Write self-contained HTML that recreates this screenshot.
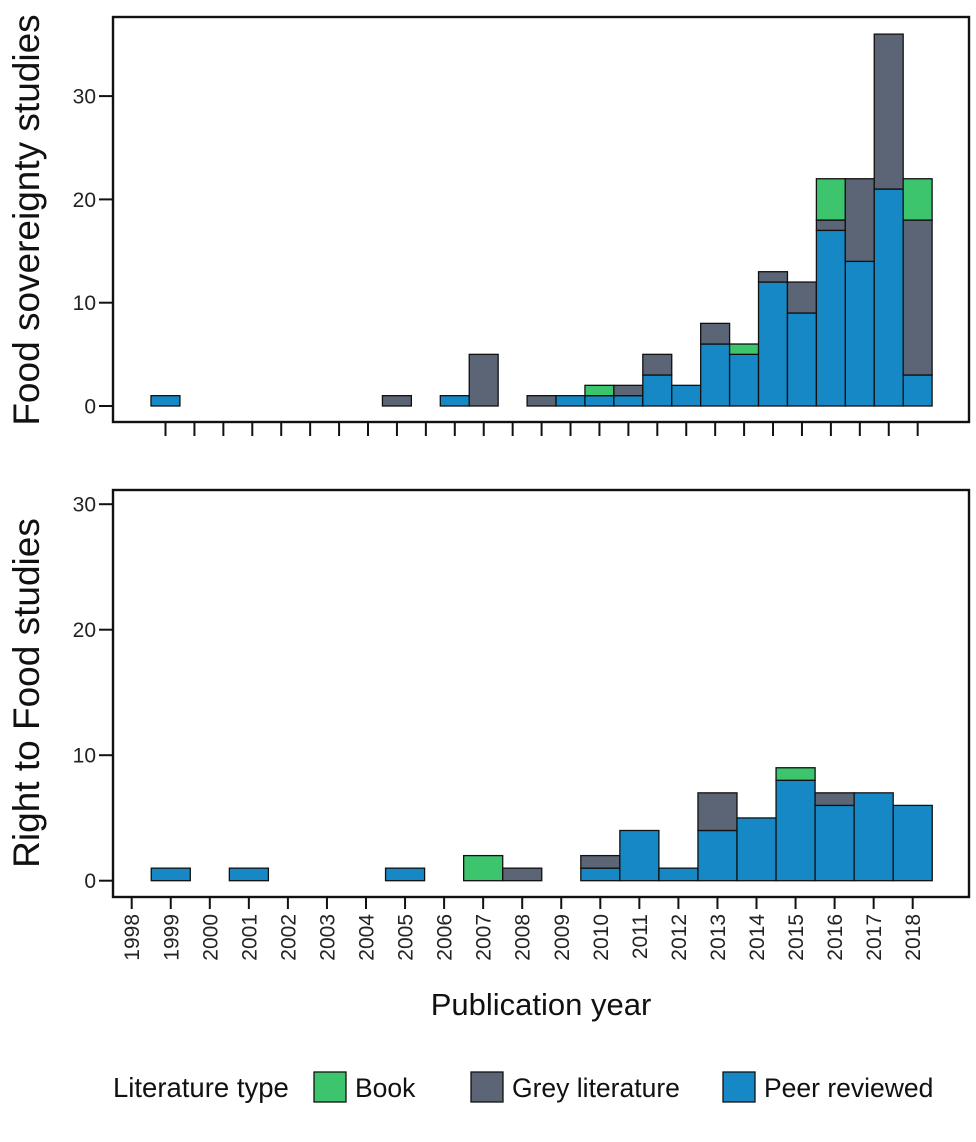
<!DOCTYPE html>
<html><head><meta charset="utf-8"><style>
body{margin:0;background:#fff;}
svg{display:block;font-family:"Liberation Sans",Arial,sans-serif;}
</style></head><body>
<svg id="chart" width="976" height="1142" viewBox="0 0 976 1142"></svg>
<script>
// Top panel (food sovereignty): 27 bins
const topBins = [1,2,3,4,5,6,7,8,9,10,11,12,13,14,15,16,17,18,19,20,21,22,23,24,25,26,27];
const topPeer = [1,0,0,0,0,0,0,0,0,0,1,0,0,0,1,1,1,3,2,6,5,12,9,17,14,21,3];
const topGrey = [0,0,0,0,0,0,0,0,1,0,0,5,0,1,0,0,1,2,0,2,0,1,3,1,8,15,15];
const topBook = [0,0,0,0,0,0,0,0,0,0,0,0,0,0,0,1,0,0,0,0,1,0,0,4,0,0,4];
const topTicks = [0,10,20,30];
// Bottom panel (right to food): years
const years = [1998,1999,2000,2001,2002,2003,2004,2005,2006,2007,2008,2009,2010,2011,2012,2013,2014,2015,2016,2017,2018];
const botPeer = [0,1,0,1,0,0,0,1,0,0,0,0,1,4,1,4,5,8,6,7,6];
const botGrey = [0,0,0,0,0,0,0,0,0,0,1,0,1,0,0,3,0,0,1,0,0];
const botBook = [0,0,0,0,0,0,0,0,0,2,0,0,0,0,0,0,0,1,0,0,0];
const botTicks = [0,10,20,30];

const C = {peer:'#1688c6', grey:'#5b6575', book:'#3cc56c'};
const svg = document.getElementById('chart');
const NS = 'http://www.w3.org/2000/svg';
function mk(tag, attrs, parent){const e=document.createElementNS(NS,tag);for(const k in attrs)e.setAttribute(k,attrs[k]);(parent||svg).appendChild(e);return e;}

const PL=113, PR=969;
const tY = v => 406 - v*10.33;
const tX = i => 151 + (i-1)*28.93;
const bY = v => 880.7 - v*12.55;
const bX = yr => 131.7 + (yr-1998)*39.05;

function drawStack(x, w, yfn, vals, panel, label){
  let base=0;
  const names=['peer','grey','book'];
  vals.forEach((v,k)=>{
    if(v<=0) return;
    const r=mk('rect',{x:x,y:yfn(base+v),width:w,height:yfn(base)-yfn(base+v),fill:C[names[k]],stroke:'#111','stroke-width':1.3});
    
    
    base+=v;
  });
}

topBins.forEach((b,i)=>drawStack(tX(b),28.93,tY,[topPeer[i],topGrey[i],topBook[i]],'top','bin'+b));
let fr=mk('rect',{x:PL,y:17,width:PR-PL,height:405,fill:'none',stroke:'#111','stroke-width':2.4});

topTicks.forEach(t=>{
  mk('line',{x1:PL-14,x2:PL,y1:tY(t),y2:tY(t),stroke:'#111','stroke-width':2});
  const tx=mk('text',{x:96,y:tY(t)+7.5,'text-anchor':'end','font-size':21,fill:'#222'});tx.textContent=t;
  
});
topBins.forEach(b=>{const cx=tX(b)+14.5;mk('line',{x1:cx,x2:cx,y1:422,y2:436,stroke:'#111','stroke-width':2});});
let yt=mk('text',{transform:'translate(39,220) rotate(-90)','text-anchor':'middle','font-size':37,fill:'#111'});
yt.textContent='Food sovereignty studies';


years.forEach((yr,i)=>drawStack(bX(yr)-19.5,39.05,bY,[botPeer[i],botGrey[i],botBook[i]],'bottom',String(yr)));
fr=mk('rect',{x:PL,y:490,width:PR-PL,height:407,fill:'none',stroke:'#111','stroke-width':2.4});

botTicks.forEach(t=>{
  mk('line',{x1:PL-14,x2:PL,y1:bY(t),y2:bY(t),stroke:'#111','stroke-width':2});
  const tx=mk('text',{x:96,y:bY(t)+7.5,'text-anchor':'end','font-size':21,fill:'#222'});tx.textContent=t;
  
});
years.forEach(yr=>{
  const cx=bX(yr);
  mk('line',{x1:cx,x2:cx,y1:897,y2:909,stroke:'#111','stroke-width':2});
  const tx=mk('text',{transform:`translate(${cx+7.5},914) rotate(-90)`,'text-anchor':'end','font-size':21,fill:'#222'});
  tx.textContent=yr;
  
});
yt=mk('text',{transform:'translate(39,693) rotate(-90)','text-anchor':'middle','font-size':37,fill:'#111'});
yt.textContent='Right to Food studies';

let xt=mk('text',{x:541,y:1015,'text-anchor':'middle','font-size':31,fill:'#111'});
xt.textContent='Publication year';


let lt=mk('text',{x:113,y:1097,'font-size':27.5,fill:'#111'});lt.textContent='Literature type';

[['book','Book',314],['grey','Grey literature',471],['peer','Peer reviewed',723]].forEach(([k,l,x])=>{
  const r=mk('rect',{x:x,y:1072,width:32,height:30,fill:C[k],stroke:'#111','stroke-width':1.3});
  
  const t=mk('text',{x:x+41,y:1097,'font-size':26.5,fill:'#111'});t.textContent=l;
  
});
</script>
</body></html>
